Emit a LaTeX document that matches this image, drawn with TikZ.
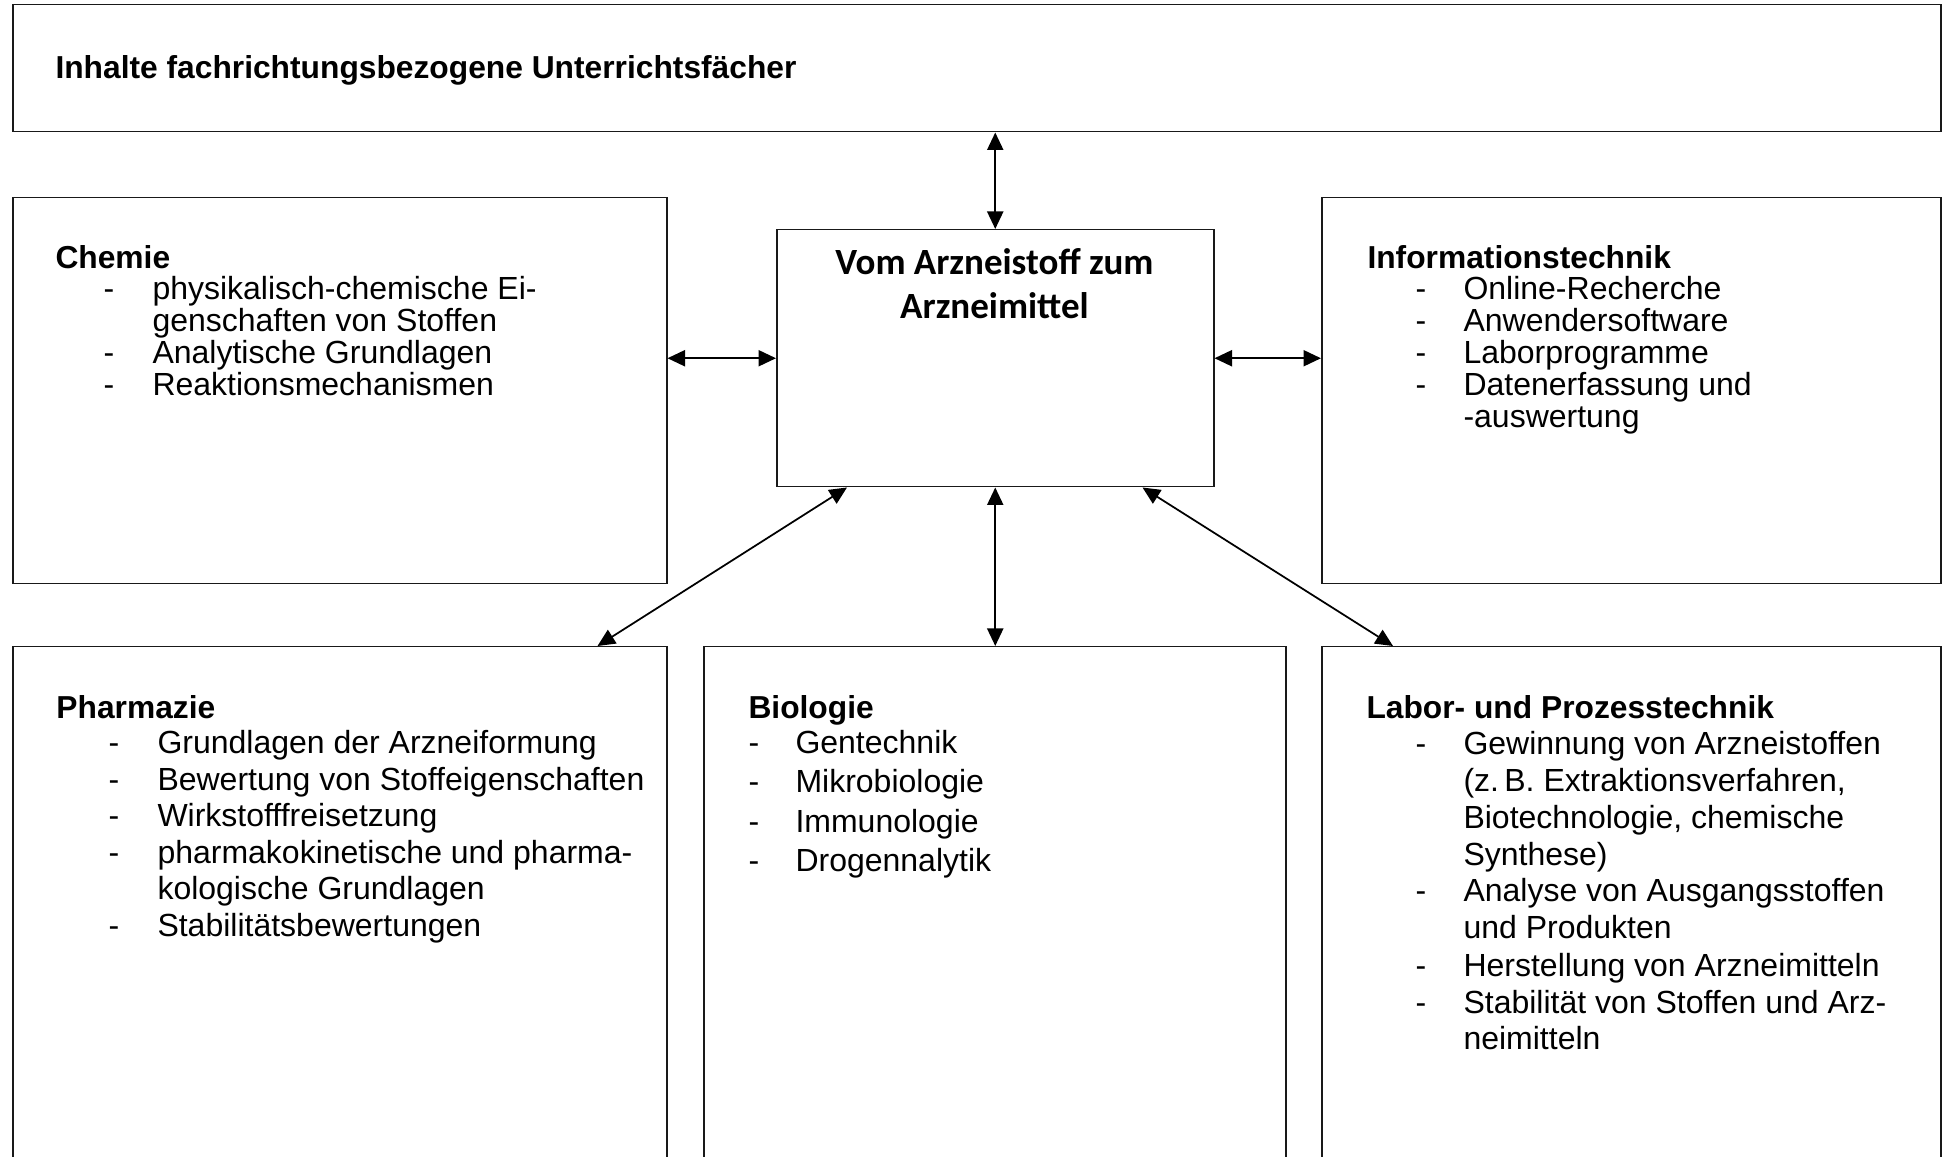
\documentclass[tikz,border=0pt]{standalone}
\usepackage{fontspec}
\setmainfont{Liberation Sans}
\newfontfamily\titlefont{Carlito}
\usetikzlibrary{arrows.meta,calc}

\begin{document}
\begin{tikzpicture}[x=0.4pt,y=-0.4pt,
  box/.style={draw=black!90, line width=0.6pt, rectangle, inner sep=0pt, anchor=north west},
  head/.style={anchor=base west, inner sep=0pt, font=\fontsize{12.7}{15}\selectfont\bfseries},
  item/.style={anchor=base west, inner sep=0pt, font=\fontsize{12.8}{15}\selectfont},
  ctitle/.style={anchor=base, inner sep=0pt, font=\fontsize{14.8}{17.6}\selectfont\titlefont\bfseries},
  tip/.style={Triangle[length=7pt,width=6.4pt]},
  link/.style={line width=0.85pt, {Triangle[length=7pt,width=6.4pt]}-{Triangle[length=7pt,width=6.4pt]}},
  slant/.style={line width=0.7pt, {Triangle[length=7pt,width=6.4pt]}-{Triangle[length=7pt,width=6.4pt]}}
]
\useasboundingbox (0,0) rectangle (1942,1157);
\fill[white] (0,0) rectangle (1942,1157);
\clip (0,0) rectangle (1942,1157);

% frames
\node[box, minimum width=1928*0.4pt, minimum height=127*0.4pt] (top) at (12,4) {};
\node[box, minimum width=654*0.4pt, minimum height=386*0.4pt] (chem) at (12,197) {};
\node[box, minimum width=437*0.4pt, minimum height=257*0.4pt] (mid) at (776,229) {};
\node[box, minimum width=619*0.4pt, minimum height=386*0.4pt] (info) at (1321,197) {};
\node[box, minimum width=654*0.4pt, minimum height=530*0.4pt] (pharm) at (12,646) {};
\node[box, minimum width=582*0.4pt, minimum height=530*0.4pt] (bio) at (703,646) {};
\node[box, minimum width=619*0.4pt, minimum height=530*0.4pt] (labor) at (1321,646) {};

% headline
\node[head] (toptxt) at (55,79) {Inhalte fachrichtungsbezogene Unterrichtsfächer};

% central topic
\node[ctitle] (mid1) at (994.5,275) {Vom Arzneistoff zum};
\node[ctitle] (mid2) at (994.5,319) {Arzneimittel};

% Chemie
\node[head] (chemh) at (55,269) {Chemie};
\node[item] (chemd1) at (103,300) {-};
\node[item] (chem1) at (152,300) {physikalisch-chemische Ei-};
\node[item] (chem1b) at (152,332) {genschaften von Stoffen};
\node[item] (chemd2) at (103,364) {-};
\node[item] (chem2) at (152,364) {Analytische Grundlagen};
\node[item] (chemd3) at (103,396) {-};
\node[item] (chem3) at (152,396) {Reaktionsmechanismen};

% Informationstechnik
\node[head] (infoh) at (1367,269) {Informationstechnik};
\node[item] (infod1) at (1415,300) {-};
\node[item] (info1) at (1463,300) {Online-Recherche};
\node[item] (infod2) at (1415,332) {-};
\node[item] (info2) at (1463,332) {Anwendersoftware};
\node[item] (infod3) at (1415,364) {-};
\node[item] (info3) at (1463,364) {Laborprogramme};
\node[item] (infod4) at (1415,396) {-};
\node[item] (info4) at (1463,396) {Datenerfassung und};
\node[item] (info4b) at (1463,428) {-auswertung};

% Pharmazie
\node[head] (pharmh) at (56,719) {Pharmazie};
\node[item] (pharmd1) at (108,754) {-};
\node[item] (pharm1) at (157,754) {Grundlagen der Arzneiformung};
\node[item] (pharmd2) at (108,791) {-};
\node[item] (pharm2) at (157,791) {Bewertung von Stoffeigenschaften};
\node[item] (pharmd3) at (108,827) {-};
\node[item] (pharm3) at (157,827) {Wirkstofffreisetzung};
\node[item] (pharmd4) at (108,864) {-};
\node[item] (pharm4) at (157,864) {pharmakokinetische und pharma-};
\node[item] (pharm4b) at (157,900) {kologische Grundlagen};
\node[item] (pharmd5) at (108,937) {-};
\node[item] (pharm5) at (157,937) {Stabilitätsbewertungen};

% Biologie
\node[head] (bioh) at (748,719) {Biologie};
\node[item] (biod1) at (748,754) {-};
\node[item] (bio1) at (795,754) {Gentechnik};
\node[item] (biod2) at (748,793) {-};
\node[item] (bio2) at (795,793) {Mikrobiologie};
\node[item] (biod3) at (748,833) {-};
\node[item] (bio3) at (795,833) {Immunologie};
\node[item] (biod4) at (748,872) {-};
\node[item] (bio4) at (795,872) {Drogennalytik};

% Labor- und Prozesstechnik
\node[head] (laborh) at (1366,719) {Labor- und Prozesstechnik};
\node[item] (labord1) at (1415,755) {-};
\node[item] (labor1) at (1463,755) {Gewinnung von Arzneistoffen};
\node[item] (labor1b) at (1463,792) {(z.\,B. Extraktionsverfahren,};
\node[item] (labor1c) at (1463,829) {Biotechnologie, chemische};
\node[item] (labor1d) at (1463,866) {Synthese)};
\node[item] (labord2) at (1415,902) {-};
\node[item] (labor2) at (1463,902) {Analyse von Ausgangsstoffen};
\node[item] (labor2b) at (1463,939) {und Produkten};
\node[item] (labord3) at (1415,977) {-};
\node[item] (labor3) at (1463,977) {Herstellung von Arzneimitteln};
\node[item] (labord4) at (1415,1014) {-};
\node[item] (labor4) at (1463,1014) {Stabilität von Stoffen und Arz-};
\node[item] (labor4b) at (1463,1050) {neimitteln};

% connectors
\draw[link] (mid.north |- top.south) -- (mid.north);
\draw[link] (mid.west -| chem.east) -- (mid.west);
\draw[link] (mid.east) -- (mid.east -| info.west);
\draw[link] (mid.south) -- (mid.south |- bio.north);
\draw[slant] ($(mid.south west)+(71,0)$) -- ($(pharm.north east)+(-70,0)$);
\draw[slant] ($(mid.south east)+(-72,0)$) -- ($(labor.north west)+(72,0)$);
\end{tikzpicture}
\end{document}
